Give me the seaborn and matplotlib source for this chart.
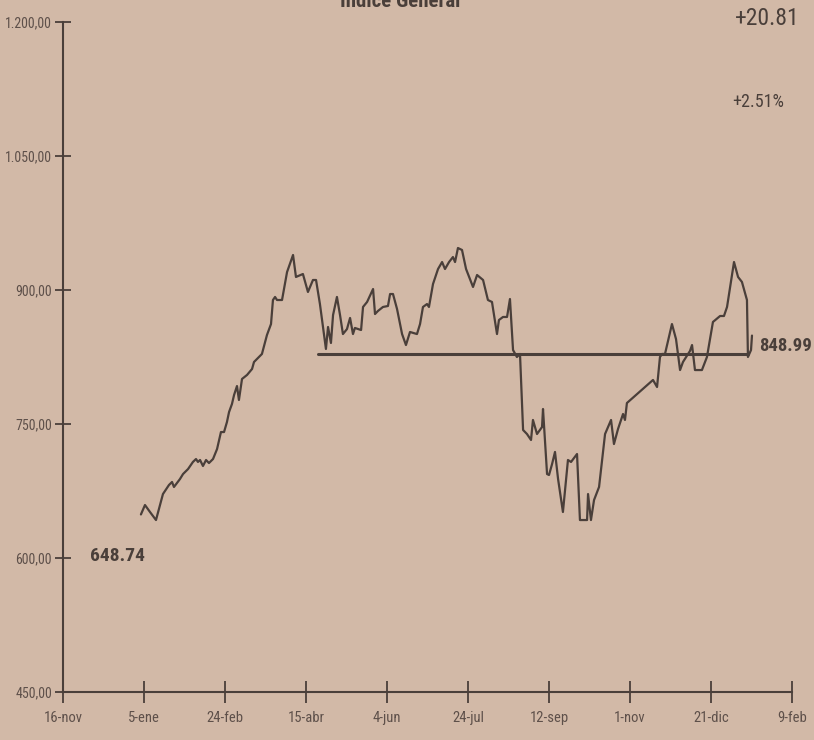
import numpy as np
import pandas as pd
import matplotlib
matplotlib.use("Agg")
import matplotlib.pyplot as plt
import seaborn as sns
from matplotlib import font_manager

# ---- data (days since 16-nov, index value) ----
days = [48.1, 50.6, 53.7, 57.4, 61.7, 65.4, 67.3, 68.5, 72.2, 74.1, 77.2, 80.2, 82.1, 83.3,
        84.6, 86.4, 88.3, 90.1, 92.6, 95.1, 97.5, 99.4, 101.2, 102.5, 104.3, 105.6, 107.4,
        108.6, 110.5, 113.6, 116.7, 117.9, 121.0, 122.8, 125.9, 128.4, 129.6, 130.9, 132.1,
        135.2, 138.3, 142.0, 143.8, 148.1, 151.2, 154.3, 156.2, 158.6, 162.3, 163.6, 165.4,
        166.7, 169.1, 171.0, 172.8, 175.3, 177.2, 179.0, 180.2, 184.0, 185.2, 187.7, 191.4,
        192.6, 194.4, 197.5, 200.6, 201.9, 203.7, 206.2, 209.3, 211.7, 214.2, 218.5, 220.4,
        222.2, 224.7, 225.9, 228.4, 231.5, 234.0, 235.8, 238.3, 240.7, 242.0, 243.8, 246.3,
        248.8, 253.1, 255.6, 259.3, 262.3, 264.8, 267.9, 269.1, 271.6, 274.1, 275.9, 277.8,
        280.2, 282.1, 284.0, 286.4, 288.9, 290.1, 292.6, 295.7, 296.3, 298.8, 300.0, 301.9,
        303.7, 305.6, 308.6, 311.7, 313.6, 317.3, 319.1, 323.5, 324.1, 325.9, 327.8, 330.9,
        334.6, 338.3, 340.1, 342.6, 345.7, 346.9, 348.1, 364.2, 366.7, 368.5, 369.8, 371.6,
        375.9, 378.4, 380.9, 382.7, 387.0, 388.3, 390.1, 394.4, 397.5, 401.2, 405.6, 408.0,
        409.9, 414.2, 416.7, 419.1, 422.2, 422.8, 424.7, 425.3]
values = [648.74, 659.3, 651.5, 642.5, 671.6, 681.7, 685.1, 679.5, 688.4, 694.0, 699.6, 707.5,
          710.8, 707.5, 709.7, 703.0, 709.7, 706.3, 710.8, 722.0, 741.0, 741.0, 752.2, 763.4,
          772.4, 782.5, 792.5, 776.9, 800.4, 804.9, 811.6, 819.4, 825.0, 828.4, 849.6, 861.9,
          888.8, 892.2, 888.8, 888.8, 920.1, 939.2, 914.6, 917.9, 897.8, 911.2, 911.2, 884.3,
          834.0, 858.6, 840.7, 872.0, 892.2, 872.0, 850.7, 856.3, 868.7, 850.7, 857.5, 855.2,
          881.0, 886.6, 901.1, 873.1, 876.5, 881.0, 882.1, 895.5, 895.5, 878.7, 850.7, 838.4,
          853.0, 850.7, 861.9, 881.0, 884.3, 881.0, 906.7, 923.5, 931.3, 923.5, 931.3, 936.9,
          931.3, 947.0, 944.8, 923.5, 903.4, 916.8, 911.2, 888.8, 886.6, 850.7, 866.4, 869.8,
          869.8, 889.9, 832.8, 825.0, 828.4, 743.3, 738.8, 732.1, 754.5, 738.8, 746.6, 766.8,
          694.0, 692.9, 705.2, 718.7, 688.4, 651.5, 709.7, 707.5, 716.4, 642.5, 642.5, 671.6,
          642.5, 664.9, 679.5, 738.8, 754.5, 727.6, 744.4, 761.2, 754.5, 773.5, 799.3, 791.4,
          825.0, 828.4, 828.4, 861.9, 845.1, 810.4, 819.4, 831.7, 838.4, 810.4, 810.4, 825.0,
          864.2, 870.9, 870.9, 881.0, 931.3, 914.6, 909.0, 888.8, 825.0, 832.8, 848.99]

ref_days = [157.7, 423.0]
ref_value = 828.18

x_ticks = [0, 50, 100, 150, 200, 250, 300, 350, 400, 450]
x_labels = ["16-nov", "5-ene", "24-feb", "15-abr", "4-jun", "24-jul", "12-sep", "1-nov", "21-dic", "9-feb"]
y_ticks = [450, 600, 750, 900, 1050, 1200]
y_labels = ["450,00", "600,00", "750,00", "900,00", "1.050,00", "1.200,00"]

title = "Índice General"
start_label = "648.74"
end_label = "848.99"
change_abs = "+20.81"
change_pct = "+2.51%"

# ---- style ----
sns.set_style("ticks")
names = {f.name for f in font_manager.fontManager.ttflist}
fams = [f for f in ["Roboto Condensed", "Liberation Sans Narrow", "DejaVu Sans Condensed",
                    "Open Sans Condensed", "Roboto"] if f in names]
plt.rcParams["font.family"] = fams + ["DejaVu Sans"]
plt.rcParams["font.stretch"] = "condensed"

bg = "#d2b9a7"
ink = "#4a3f3a"
tick_ink = "#5e504a"

fig = plt.figure(figsize=(8.14, 7.4), dpi=100, facecolor=bg)
ax = fig.add_axes([63 / 814, 1 - 692 / 740, (792 - 63) / 814, (692 - 22) / 740])
ax.set_facecolor(bg)

df = pd.DataFrame({"day": days, "value": values})
sns.lineplot(data=df, x="day", y="value", ax=ax, color=ink, linewidth=1.6, sort=False,
             estimator=None)
ref = pd.DataFrame({"day": ref_days, "value": [ref_value, ref_value]})
sns.lineplot(data=ref, x="day", y="value", ax=ax, color=ink, linewidth=2.2, estimator=None)

ax.set_xlim(0, 450)
ax.set_ylim(450, 1200)
ax.set_xticks(x_ticks)
ax.set_xticklabels(x_labels)
ax.set_yticks(y_ticks)
ax.set_yticklabels(y_labels)
ax.set_xlabel("")
ax.set_ylabel("")
for s in ["top", "right"]:
    ax.spines[s].set_visible(False)
for s in ["left", "bottom"]:
    ax.spines[s].set_color(ink)
    ax.spines[s].set_linewidth(1.5)
ax.tick_params(axis="x", direction="inout", length=16, width=1.3, color=ink,
               labelsize=10.5, labelcolor=tick_ink, pad=6)
ax.tick_params(axis="y", direction="inout", length=12, width=1.3, color=ink,
               labelsize=10, labelcolor=tick_ink, pad=2)

# annotations
fig.text(400 / 814, 1 - 7 / 740, title, ha="center", va="baseline", fontsize=15,
         fontweight="bold", color=ink)
fig.text(800 / 814, 1 - 25 / 740, change_abs, ha="right", va="baseline", fontsize=17,
         color=ink)
fig.text(784 / 814, 1 - 107 / 740, change_pct, ha="right", va="baseline", fontsize=13,
         color=ink)
fig.text(90 / 814, 1 - 561 / 740, start_label, ha="left", va="baseline", fontsize=14,
         fontweight="semibold", color=ink)
fig.text(812 / 814, 1 - 351 / 740, end_label, ha="right", va="baseline", fontsize=13.5,
         fontweight="semibold", color=ink)

fig.savefig("out.png", dpi=100, facecolor=bg)
